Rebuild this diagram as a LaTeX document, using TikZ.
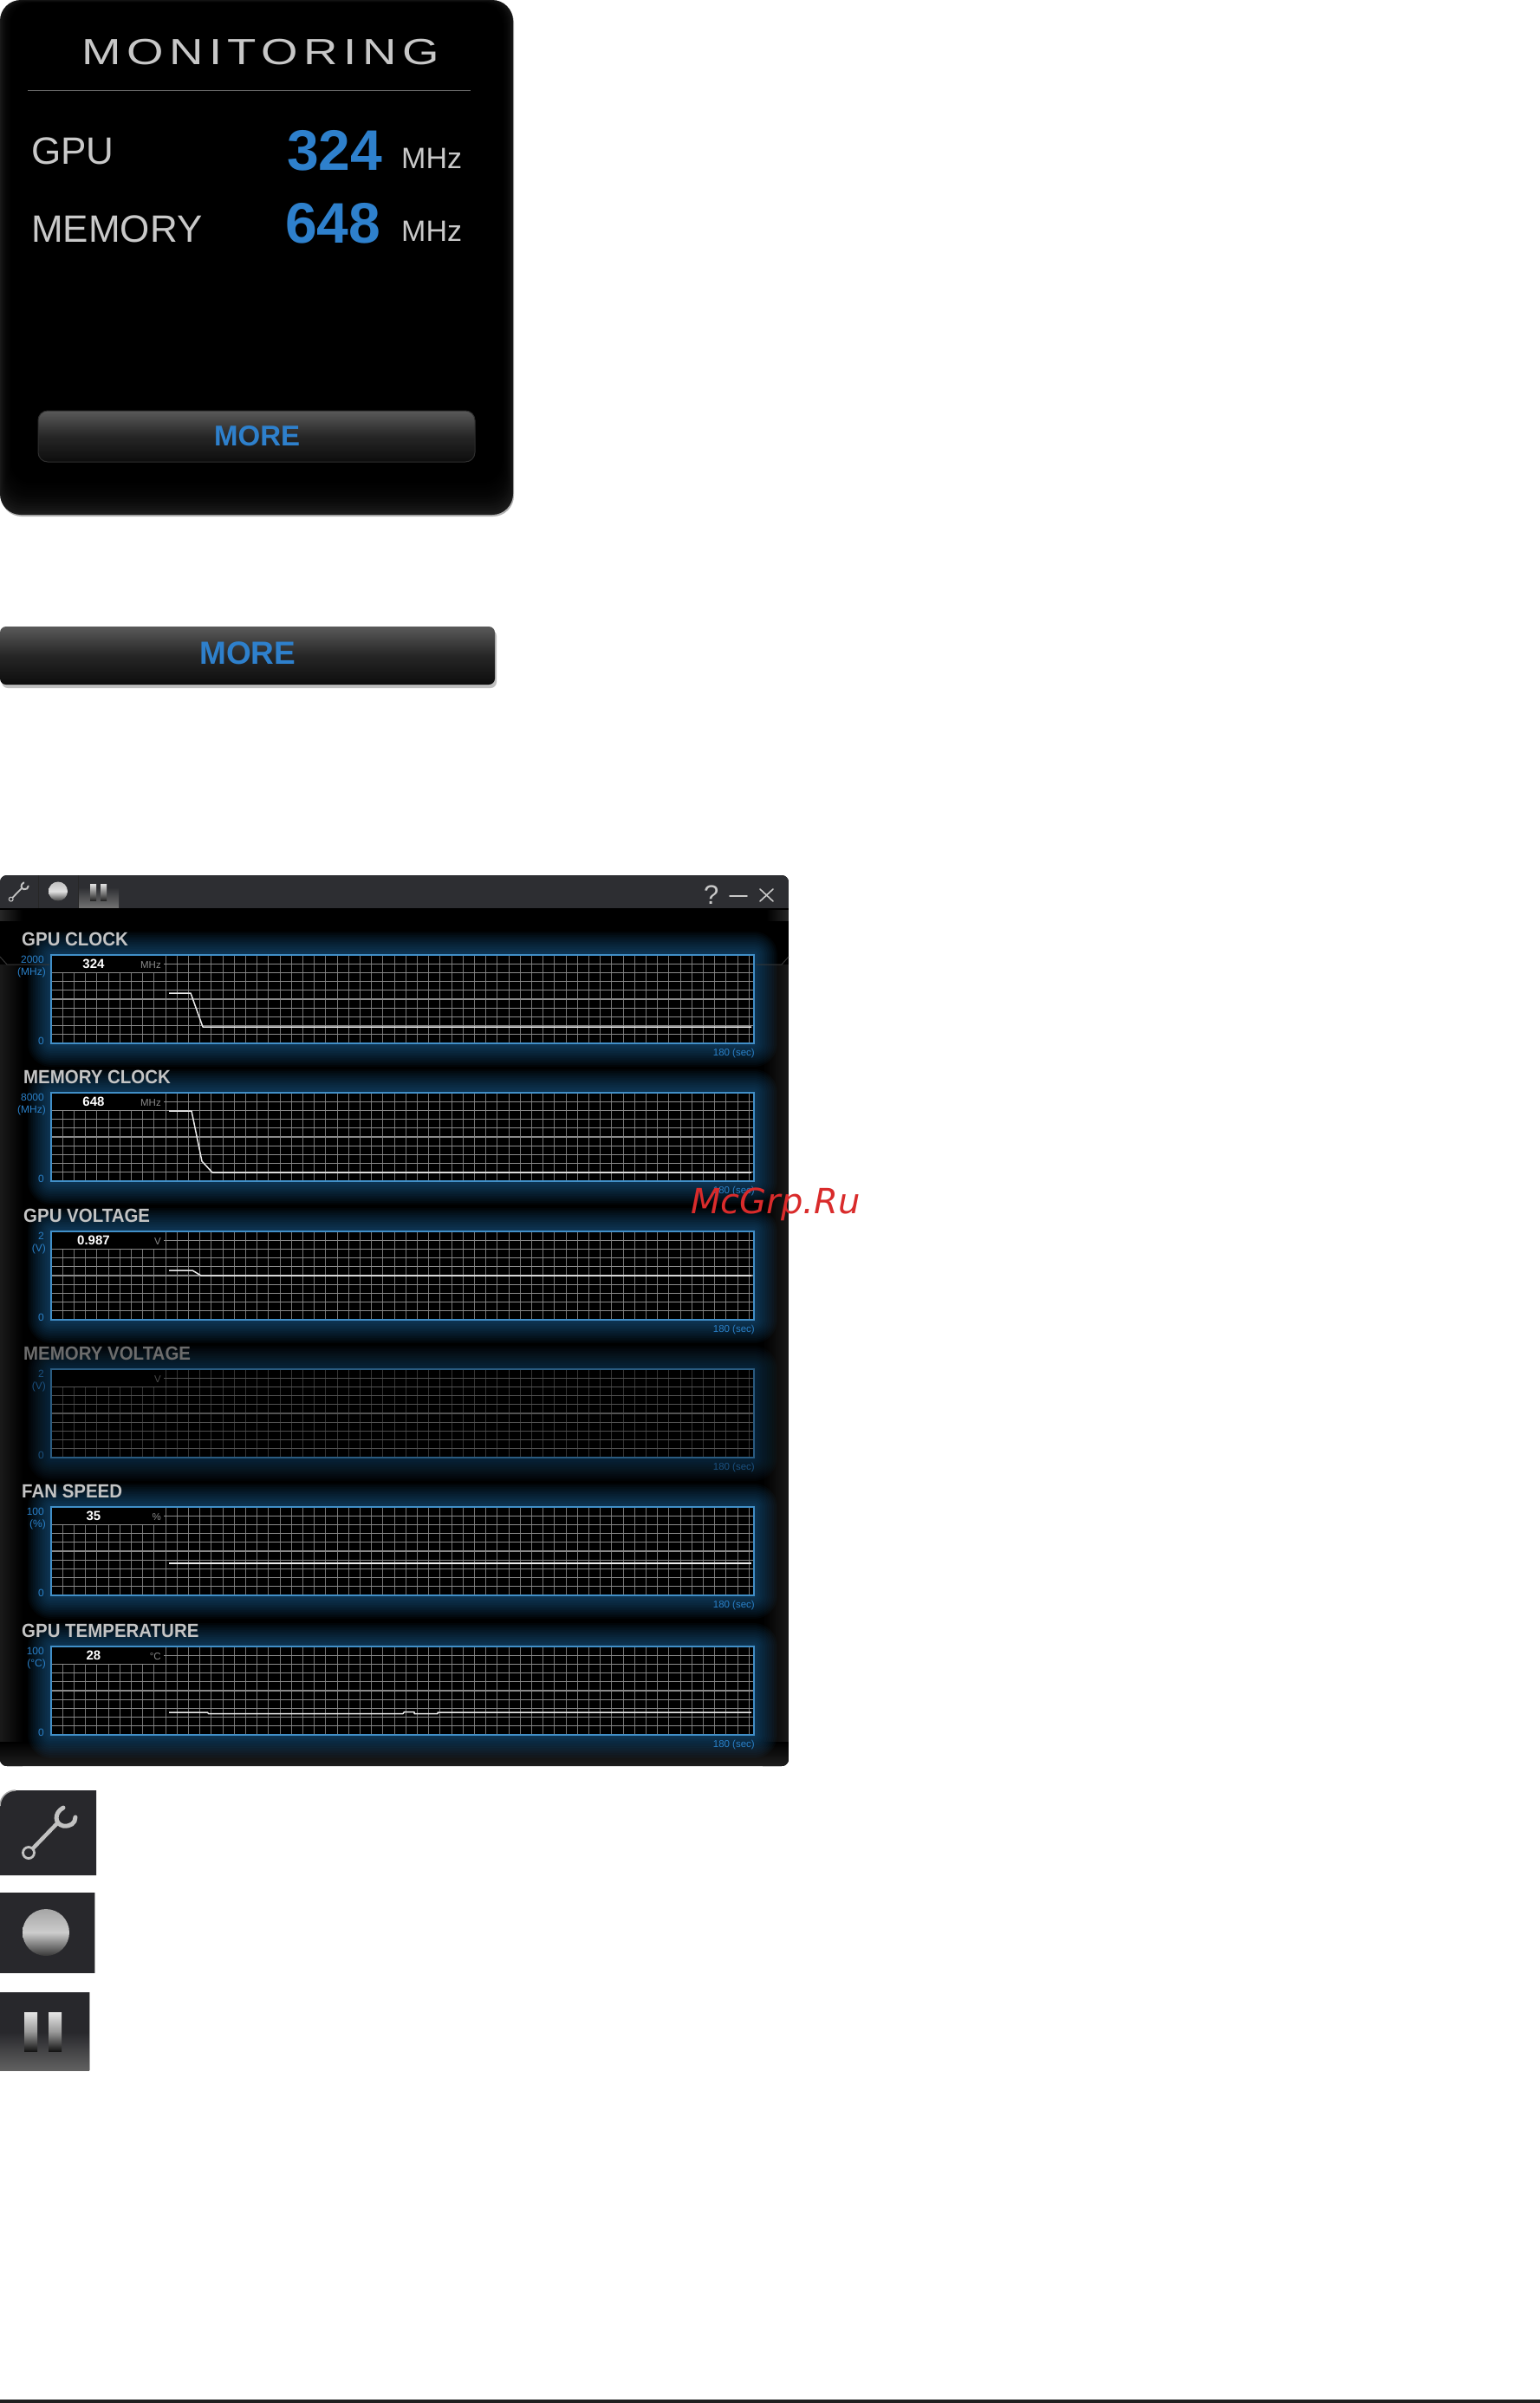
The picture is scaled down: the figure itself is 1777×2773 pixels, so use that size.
\documentclass[tikz,border=0pt]{standalone}
\usepackage{fontspec}
\setmainfont{Liberation Sans}
\newfontfamily\markfont{DejaVu Sans}
\usepackage{tikz}
\definecolor{panelgrey}{HTML}{1E1E1E}
\definecolor{barblue}{HTML}{2E80CC}
\definecolor{labelgrey}{HTML}{C9C9C9}
\definecolor{barface}{HTML}{2D2E32}
\definecolor{iconface}{HTML}{28282C}
\definecolor{glowblue}{HTML}{2A80C4}
\definecolor{gridon}{HTML}{757575}
\definecolor{gridoff}{HTML}{343434}
\definecolor{frameon}{HTML}{418FC8}
\definecolor{frameoff}{HTML}{2A5B80}
\definecolor{axison}{HTML}{2A80C8}
\definecolor{axisoff}{HTML}{1A5080}
\definecolor{titleon}{HTML}{C4C4C4}
\definecolor{titleoff}{HTML}{6C6C6C}
\definecolor{unitoff}{HTML}{4A4A4A}
\definecolor{uniton}{HTML}{8A8A8A}
\definecolor{markred}{HTML}{D92B2B}
\def\fs#1{\fontsize{#1}{#1}\selectfont}
\def\plotw{811}
\def\ploth{102}
\tikzset{
    txt/.style={inner sep=0pt,anchor=base west},
    txtr/.style={inner sep=0pt,anchor=base east},
    curve/.style={draw=white!92!black,line width=1.5pt,line join=round},
    morebtn/.style={draw=black!82,line width=1pt,top color=black!65,bottom color=black!95,middle color=black!85},
    barbtn/.style={draw=labelgrey,line width=1.6pt,line cap=round},
}
% wrench drawn in the coordinates of the large icon
\def\wrenchicon#1{
    \draw[white!76!black,line width=#1*4.5pt] (37,68) -- (67,37);
    \draw[white!76!black,line width=#1*2.8pt] (33,72) circle (6.5);
    \draw[white!76!black,line width=#1*5pt,line cap=round] (73,20) .. controls (62,26) and (63,39) .. (73,41) .. controls (81,42) and (87,38) .. (87,31);
}
\begin{document}
\begin{tikzpicture}[x=1pt,y=-1pt]
    \useasboundingbox (0,0) rectangle (1777,2773);
    \fill[white] (0,0) rectangle (1777,2773);
    % monitoring panel
    \fill[black!30,rounded corners=24pt] (1,2) rectangle (593,596);
    \fill[panelgrey,rounded corners=24pt] (0,0) rectangle (592,594);
    \foreach \g in {0,...,15}
        \fill[black,opacity=.14,rounded corners=24pt] (\g,{\g*.3}) rectangle ({592-\g},{592-\g*2.7});
    \node[txt,white!78!black] (montitle) at (94,74) {\scalebox{1.3}[1]{\fs{42}\addfontfeature{LetterSpace=12}MONITORING}};
    \draw[white!42!black,line width=1pt] (32,104) -- (543,104);
    \node[txt,labelgrey] (gpulabel) at (36,189) {\fs{44}GPU};
    \node[txt,labelgrey] (memlabel) at (36,279) {\fs{44}MEMORY};
    \node[txt,barblue] (gpuval) at (331,196) {\fs{66}\bfseries 324};
    \node[txt,barblue] (memval) at (329,280) {\fs{66}\bfseries 648};
    \node[txt,labelgrey] (gpuunit) at (463,194) {\fs{34}MHz};
    \node[txt,labelgrey] (memunit) at (463,278) {\fs{34}MHz};
    \path[morebtn,rounded corners=11pt] (44,474) rectangle (548,533);
    \node[txt,barblue] (moretop) at (247,514) {\fs{33}\bfseries MORE};
    % second button
    \fill[black!25,rounded corners=7pt] (2,727) rectangle (573,794);
    \path[morebtn,draw=none,rounded corners=7pt] (0,723) rectangle (571,790);
    \node[txt,barblue] (morebig) at (230,766) {\fs{37}\bfseries MORE};
    % window
    \begin{scope}
        \clip[rounded corners=8pt] (0,1010) rectangle (910,2038);
        \fill[black] (0,1010) rectangle (910,2038);
        \shade[left color=black!90,right color=black] (0,1113) rectangle (26,2038);
        \shade[left color=black,right color=black!90] (880,1113) rectangle (910,2038);
        \shade[top color=black,bottom color=black!88] (0,2010) rectangle (910,2038);
        \shade[left color=black!85,right color=black] (0,1050) rectangle (26,1062);
        \shade[left color=black,right color=black!85] (884,1050) rectangle (910,1062);
        \fill[barface] (0,1010) rectangle (910,1048);
        \shade[top color=barface,bottom color=black!55] (91,1024) rectangle (137,1048);
        \draw[black!85,line width=1pt] (44,1010) -- (44,1048) (90,1010) -- (90,1048);
        \draw[black,line width=1pt] (0,1048) -- (910,1048);
    \end{scope}
    \begin{scope}[shift={(.5,1011)},scale=.37]
        \wrenchicon{.4}
    \end{scope}
    \shade[top color=black!25,bottom color=black!72,middle color=black!12] (67,1028.5) circle (11);
    \shade[top color=black!12,bottom color=black!85] (104,1020) rectangle (111,1039);
    \shade[top color=black!12,bottom color=black!85] (116,1020) rectangle (123,1039);
    \node[txt,labelgrey] (helpbtn) at (812,1043) {\fs{31}?};
    \draw[barbtn] (842,1034) -- (862,1034);
    \draw[barbtn] (877,1026) -- (892,1040) (892,1026) -- (877,1040);
    \foreach \py/\ptitle/\ptx/\pmax/\punit/\pval/\psym/\pstate/\pglow in {
        1102/GPU CLOCK/25/2000/(MHz)/324/MHz/on/.045,
        1261/MEMORY CLOCK/27/8000/(MHz)/648/MHz/on/.045,
        1421/GPU VOLTAGE/27/2/(V)/0.987/V/on/.045,
        1580/MEMORY VOLTAGE/27/2/(V)//V/off/.028,
        1739/FAN SPEED/25/100/(\%)/35/\%/on/.045,
        1900/GPU TEMPERATURE/25/100/(°C)/28/°C/on/.045} {
        \foreach \g in {27,25,...,1}
            \fill[glowblue,opacity=\pglow,rounded corners=\g pt] ({59-\g},{\py-\g}) rectangle ({870+\g},{\py+\ploth+\g});
        \fill[black] (59,\py) rectangle (870,\py+\ploth);
        \foreach \k in {1,...,61}
            \draw[grid\pstate,line width=1pt] ({59+13.2*\k},\py) -- ({59+13.2*\k},\py+\ploth);
        \foreach \k in {1,...,9}
            \draw[grid\pstate!85!white,line width=1.2pt] (59,{\py+10.2*\k}) -- (870,{\py+10.2*\k});
        \fill[black] (59,\py) rectangle (189,\py+20);
        \draw[frame\pstate,line width=2pt] (59,\py) rectangle (870,\py+\ploth);
        \node[txt,title\pstate] (title\py) at (\ptx,\py-11) {\scalebox{.93}[1]{\fs{22}\bfseries \ptitle}};
        \node[txtr,axis\pstate] (max\py) at (51,\py+9) {\fs{12}\pmax};
        \node[txtr,axis\pstate] (scale\py) at (53,\py+23) {\fs{12}\punit};
        \node[txtr,axis\pstate] (zero\py) at (51,\py+103) {\fs{12}0};
        \node[txtr,axis\pstate] (time\py) at (871,\py+116) {\fs{11.5}180 (sec)};
        \node[inner sep=0pt,anchor=base,white] (val\py) at (108,\py+15) {\fs{15}\bfseries \pval};
        \node[txtr,unit\pstate] (sym\py) at (186,\py+15) {\fs{11.5}\psym};
    }
    \draw[black!78,line width=1pt] (0,1104) -- (8,1113) -- (57,1113);
    \draw[black!78,line width=1pt] (872,1113) -- (902,1113) -- (910,1104);
    % traces
    \draw[curve] (195,1146) -- (220,1146) -- (234,1185) -- (867,1185);
    \draw[curve] (195,1282) -- (221,1282) -- (233,1340) -- (245,1353) -- (867,1353);
    \draw[curve] (195,1466) -- (222,1466) -- (232,1472) -- (867,1472);
    \draw[curve] (195,1804) -- (867,1804);
    \draw[curve] (195,1976) -- (239.5,1976) -- (240.5,1977.5) -- (465,1977.5) -- (466.5,1975.5) -- (478,1975.5) -- (478,1977.5) -- (505,1977.5) -- (505,1976) -- (867,1976);
    % large icons
    \fill[iconface] (0,2164) [rounded corners=18pt] -- (0,2066) [sharp corners] -- (111,2066) -- (111,2164) -- cycle;
    \draw[black!35,line width=1.5pt] (0,2084) .. controls (0,2074) and (8,2066) .. (18,2066);
    \begin{scope}[shift={(0,2066)}]
        \wrenchicon{1}
    \end{scope}
    \fill[iconface] (0,2184) rectangle (109,2277);
    \draw[black!35,line width=1pt] (109,2184) -- (109,2277);
    \shade[top color=black!35,bottom color=black!78,middle color=black!20] (53,2230) circle (27);
    \fill[iconface] (0,2299) rectangle (103,2389);
    \shade[top color=iconface,bottom color=black!62] (0,2345) rectangle (103,2389);
    \draw[black!35,line width=1pt] (103,2299) -- (103,2389);
    \shade[top color=black!10,bottom color=black!92,middle color=black!40] (28,2322) rectangle (43,2367);
    \shade[top color=black!10,bottom color=black!92,middle color=black!40] (56,2322) rectangle (71,2367);
    % foot rule and site mark
    \fill[black!88] (0,2769) rectangle (1777,2773);
    \node[txt,markred] (sitemark) at (797,1400) {\markfont\itshape\fs{40}McGrp.Ru};
\end{tikzpicture}
\end{document}
